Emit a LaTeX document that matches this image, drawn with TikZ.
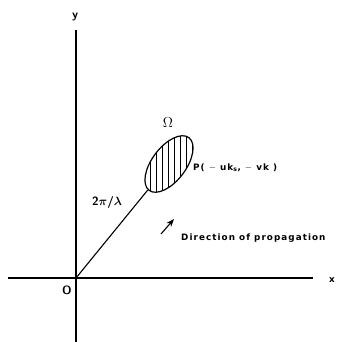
\documentclass[tikz,border=0pt]{standalone}
\usepackage{amsmath,amssymb}
\usepackage{fontspec}
\newfontfamily\lblfont[LetterSpace=12]{DejaVu Sans}
\usetikzlibrary{arrows.meta,shapes.geometric,patterns.meta}

\begin{document}
\begin{tikzpicture}[x=1pt,y=-1pt,>=Stealth,
  axis/.style={black,line width=1.5pt},
  lbl/.style={font=\fontsize{8.8}{10}\selectfont\lblfont\bfseries,inner sep=1pt},
  every node/.style={font=\normalsize}]
  \useasboundingbox (0,0) rectangle (337,342);

  % axes, origin at the lower left crossing
  \coordinate (O) at (76,278);
  \coordinate (xl) at (8,278);
  \coordinate (xr) at (313,278);
  \coordinate (yt) at (76,30);
  \coordinate (yb) at (76,342);
  \draw[axis] (xl) -- (xr);
  \draw[axis] (yt) -- (yb);
  \node[lbl] (xlab) at (332,280) {x};
  \node[lbl,font=\large\sffamily\bfseries] (ylab) at (75,17) {y};
  \node[lbl,font=\large\sffamily\bfseries] (olab) at (67,290) {O};

  % the hatched region round P
  \node[ellipse,draw,line width=1.2pt,rotate=53,minimum width=66pt,
    minimum height=34pt,inner sep=0pt,
    pattern={Lines[angle=90,distance=6pt,line width=0.8pt]}]
    (region) at (169,164) {};
  \draw[line width=1.1pt] (O) -- (region);

  \node[font=\Large\bfseries] (omega) at (168,123) {$\Omega$};
  \node[lbl,anchor=west] (plab) at (192,168)
    {P( $-$ uk$_{\text{s}}$, $-$ vk )};
  \node[lbl,font=\large\sffamily\bfseries] (klab) at (107,202)
    {2$\boldsymbol{\pi}$/$\boldsymbol{\lambda}$};

  % direction arrow
  \coordinate (dtail) at (161,234);
  \coordinate (dhead) at (174,219);
  \draw[->,line width=1.1pt] (dtail) -- (dhead);
  \node[lbl,anchor=west] (dlab) at (180,238) {Direction of propagation};
\end{tikzpicture}
\end{document}
